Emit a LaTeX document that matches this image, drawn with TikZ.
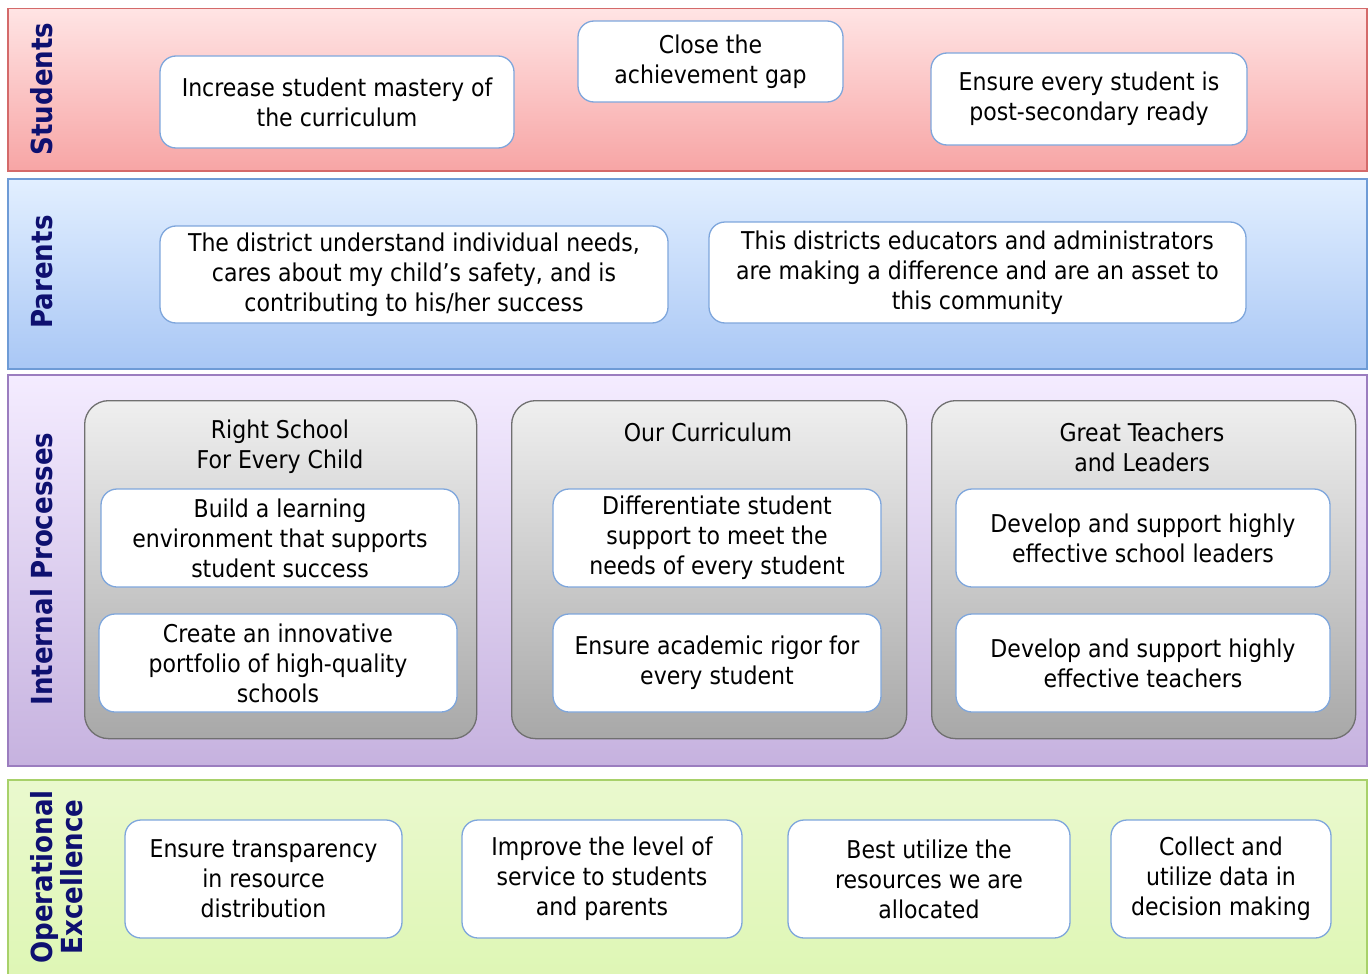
\documentclass[tikz,border=0pt]{standalone}
\usepackage{fontspec}
\setmainfont{DejaVu Sans Condensed}
\begin{document}
\begin{tikzpicture}[x=1pt,y=-1pt,
  band/.style={draw=#1, line width=1.5pt, inner sep=0pt, anchor=north west},
  bandlabel/.style={rotate=90, font=\fontsize{29}{30}\selectfont\bfseries, text=navytext, align=center, inner sep=0pt},
  goal/.style={draw=goalblue, fill=white, line width=1.3pt, rounded corners=16pt,
    inner sep=0pt, align=center, font=\fontsize{24.5}{30}\selectfont},
  group/.style={draw=groupedge, line width=1.3pt, rounded corners=24pt,
    top color=groupTop, bottom color=groupBot, inner sep=0pt, anchor=north west},
  grouptitle/.style={align=center, inner sep=0pt, font=\fontsize{24.5}{30}\selectfont}
]
\definecolor{navytext}{HTML}{0E1070}
\definecolor{goalblue}{HTML}{7EA6DC}
\definecolor{groupedge}{HTML}{707070}
\definecolor{groupTop}{HTML}{EFEFEF}
\definecolor{groupBot}{HTML}{A8A8A8}
\definecolor{redEdge}{HTML}{D46A6A}
\definecolor{redTop}{HTML}{FFE4E4}
\definecolor{redBot}{HTML}{F7A5A5}
\definecolor{blueEdge}{HTML}{6E9BD6}
\definecolor{blueTop}{HTML}{E2EFFF}
\definecolor{blueBot}{HTML}{A9C7F5}
\definecolor{purpEdge}{HTML}{9B7DBF}
\definecolor{purpTop}{HTML}{F4ECFF}
\definecolor{purpBot}{HTML}{C6B2DF}
\definecolor{greenEdge}{HTML}{A8D16A}
\definecolor{greenTop}{HTML}{EAF9CE}
\definecolor{greenBot}{HTML}{DDF6B2}

\useasboundingbox (0,0) rectangle (1368,974);
\clip (0,0) rectangle (1368,974);

% ---- horizontal bands ----
\node[band=redEdge, top color=redTop, bottom color=redBot,
  minimum width=1359pt, minimum height=162pt] (students) at (7,8) {};
\node[band=blueEdge, top color=blueTop, bottom color=blueBot,
  minimum width=1359pt, minimum height=190pt] (parents) at (7,178) {};
\node[band=purpEdge, top color=purpTop, bottom color=purpBot,
  minimum width=1359pt, minimum height=391pt] (internal) at (7,374) {};
\node[band=greenEdge, top color=greenTop, bottom color=greenBot,
  minimum width=1359pt, minimum height=220pt] (operational) at (7,779) {};

% ---- band titles ----
\node[bandlabel] (lstudents) at (42,89) {Students};
\node[bandlabel] (lparents) at (42,272) {Parents};
\node[bandlabel] (linternal) at (42,569) {Internal Processes};
\node[bandlabel] (loperational) at (57,877) {Operational\\Excellence};

% ---- Students ----
\node[goal, minimum width=354pt, minimum height=92pt] (s1) at (337,102)
  {Increase student mastery of\\the curriculum};
\node[goal, minimum width=265pt, minimum height=81pt] (s2) at (710.5,61.5)
  {Close the\\achievement gap};
\node[goal, minimum width=316pt, minimum height=92pt] (s3) at (1089,99)
  {Ensure every student is\\post-secondary ready};

% ---- Parents ----
\node[goal, minimum width=508pt, minimum height=97pt] (p1) at (414,274.5)
  {The district understand individual needs,\\cares about my child’s safety, and is\\contributing to his/her success};
\node[goal, minimum width=537pt, minimum height=101pt] (p2) at (977.5,272.5)
  {This districts educators and administrators\\are making a difference and are an asset to\\this community};

% ---- Internal processes: three groups ----
\node[group, minimum width=392pt, minimum height=338pt] (ga) at (84,400) {};
\node[group, minimum width=395pt, minimum height=338pt] (gb) at (511,400) {};
\node[group, minimum width=424pt, minimum height=338pt] (gc) at (931,400) {};

\node[grouptitle] (ta) at (280,447) {Right School\\For Every Child};
\node[grouptitle] (tb) at (708,432) {Our Curriculum};
\node[grouptitle] (tc) at (1142,447) {Great Teachers\\and Leaders};

\node[goal, minimum width=358pt, minimum height=98pt] (a1) at (280,538)
  {Build a learning\\environment that supports\\student success};
\node[goal, minimum width=358pt, minimum height=98pt] (a2) at (278,663)
  {Create an innovative\\portfolio of high-quality\\schools};
\node[goal, minimum width=328pt, minimum height=98pt] (b1) at (717,538)
  {Differentiate student\\support to meet the\\needs of every student};
\node[goal, minimum width=328pt, minimum height=98pt] (b2) at (717,663)
  {Ensure academic rigor for\\every student};
\node[goal, minimum width=374pt, minimum height=98pt] (c1) at (1143,538)
  {Develop and support highly\\effective school leaders};
\node[goal, minimum width=374pt, minimum height=98pt] (c2) at (1143,663)
  {Develop and support highly\\effective teachers};

% ---- Operational excellence ----
\node[goal, minimum width=277pt, minimum height=118pt] (o1) at (263.5,879)
  {Ensure transparency\\in resource\\distribution};
\node[goal, minimum width=280pt, minimum height=118pt] (o2) at (602,879)
  {Improve the level of\\service to students\\and parents};
\node[goal, minimum width=282pt, minimum height=118pt] (o3) at (929,879)
  {Best utilize the\\resources we are\\allocated};
\node[goal, minimum width=220pt, minimum height=118pt] (o4) at (1221,879)
  {Collect and\\utilize data in\\decision making};
\end{tikzpicture}
\end{document}
